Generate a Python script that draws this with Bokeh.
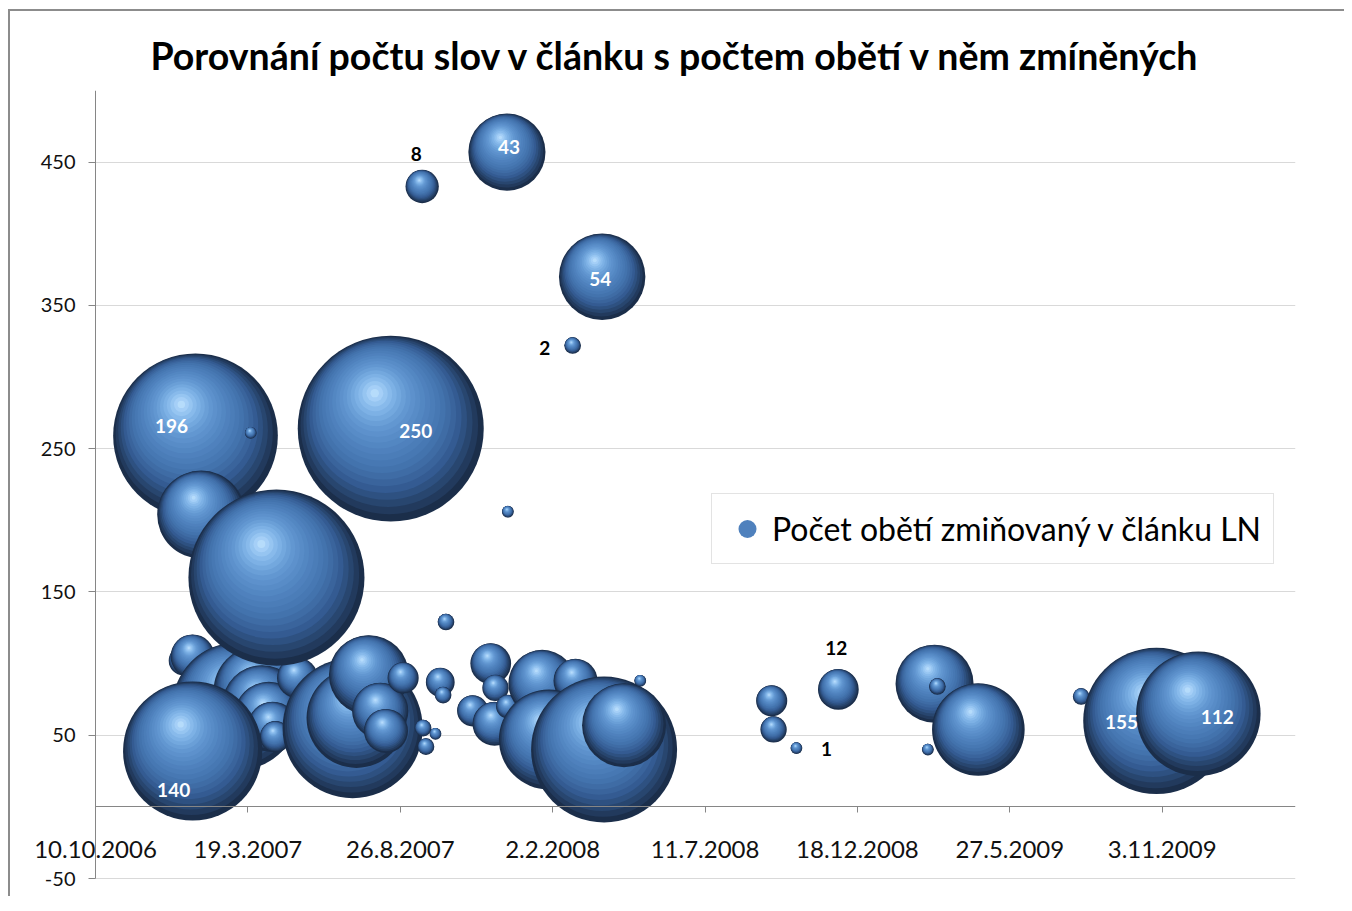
import numpy as np
import pandas as pd
from bokeh.plotting import figure
from bokeh.models import FixedTicker, Range1d, Legend, LegendItem, ColumnDataSource
from bokeh.core.properties import value
from bokeh.embed import file_html
from bokeh.resources import INLINE

TITLE = "Porovnání počtu slov v článku s počtem obětí v něm zmíněných"
SERIES = "Počet obětí zmiňovaný v článku LN"

# bubbles in drawing order: date of article, words (y), victims (bubble size)
DATES = ["2007-01-23", "2007-01-29", "2007-01-10", "2007-01-20", "2007-03-07",
         "2007-03-30", "2007-04-03", "2007-04-10", "2007-04-14", "2007-04-17",
         "2007-05-10", "2007-04-18", "2007-03-22", "2007-01-20", "2007-07-07",
         "2007-07-11", "2007-07-24", "2007-08-05", "2007-08-11", "2007-08-29",
         "2007-09-19", "2007-09-22", "2007-10-02", "2007-08-16", "2007-09-18",
         "2007-10-13", "2007-10-07", "2007-10-10", "2007-11-10", "2007-11-29",
         "2007-12-04", "2007-12-03", "2007-12-17", "2007-12-17", "2007-12-16",
         "2008-01-22", "2008-02-26", "2008-01-29", "2008-03-27", "2008-04-17",
         "2008-05-04", "2008-02-23", "2008-03-25", "2008-09-19", "2008-09-21",
         "2008-10-15", "2008-11-28", "2009-03-09", "2009-03-12", "2009-03-02",
         "2009-04-24", "2009-08-10", "2009-10-28", "2009-12-11"]
WORDS = [259, 204, 102, 105, 70,
         81, 71, 63, 56, 49,
         90, 160, 261, 39, 55,
         62, 92, 67, 53, 90,
         55, 42, 51, 264, 433,
         129, 87, 78, 67, 100,
         83, 58, 70, 206, 457,
         86, 88, 47, 40, 57,
         88, 322, 370, 74, 54,
         41, 82, 86, 84, 40,
         54, 77, 60, 65]
VICTIMS = [196, 56, 6, 14, 118,
           58, 46, 35, 18, 7,
           12, 224, 1, 140, 142,
           72, 46, 23, 14, 7,
           2, 2, 1, 250, 8,
           2, 6, 2, 7, 12,
           5, 14, 4, 1, 43,
           33, 14, 72, 154, 51,
           1, 2, 54, 7, 5,
           1, 12, 44, 2, 1,
           62, 2, 155, 112]

# data labels (index into the bubbles) with screen offsets and colours
LABEL_INDEX = [0, 23, 13, 24, 34, 42, 41, 46, 45, 52, 53]
LABEL_DX = [-24, 25, -19, -6, 2, -2, -28, -2, 30, -35, 19]
LABEL_DY = [-10, 2, 39, -32, -5, 2, 2, -41, 1, 1, 3]
LABEL_COLOR = ["white", "white", "white", "black", "white", "white", "black",
               "black", "black", "white", "white"]

X_TICK_LABELS = ["10.10.2006", "19.3.2007", "26.8.2007", "2.2.2008",
                 "11.7.2008", "18.12.2008", "27.5.2009", "3.11.2009"]
Y_TICKS = [-50, 50, 150, 250, 350, 450]
Y_TICK_LABELS = ["-50", "50", "150", "250", "350", "450"]
X_START, X_END = "2006-10-10", "2010-03-23"
Y_START, Y_END = -50, 500

# layout (pixels)
AXIS_W, AXIS_H = 1200, 788      # extent of the axes
PAD_LEFT, PAD_BOTTOM = 85, 17   # frame room left of / below the axes
R_MAX_PX = 93.0

def ms(d):
    return pd.to_datetime(d).value / 1e6

x0, x1 = ms(X_START), ms(X_END)
ms_per_px = (x1 - x0) / AXIS_W
units_per_px = (Y_END - Y_START) / AXIS_H

# shading ramp for the 3-D bubble look (rim -> highlight)
STOP_T = [0.0, 0.08, 0.18, 0.30, 0.46, 0.64, 0.80, 0.92, 1.0]
STOP_C = ["#1b2e4a", "#27436b", "#345b92", "#4271ab", "#4f82be", "#6297d1",
          "#82b6e9", "#a8d2f8", "#c8e8ff"]
rgb = np.array([[int(c[i:i + 2], 16) for i in (1, 3, 5)] for c in STOP_C], float)

def color_at(t):
    r, g, b = (np.interp(t, STOP_T, rgb[:, j]) for j in range(3))
    return "#%02x%02x%02x" % (int(round(r)), int(round(g)), int(round(b)))

K = 22
HDIR = np.array([-0.41, -0.91])   # direction of the highlight (screen)
HDIST = 0.42                      # highlight distance, fraction of radius
scale = R_MAX_PX / np.sqrt(max(VICTIMS))

lx, ly, ls, lc = [], [], [], []
for d, w, v in zip(DATES, WORDS, VICTIMS):
    r = scale * np.sqrt(v)
    xm = ms(d)
    for k in range(K):
        t = k / K
        g = HDIST * (1 - (1 - t) ** 2) * r
        lx.append(xm + HDIR[0] * g * ms_per_px)
        ly.append(w - HDIR[1] * g * units_per_px)
        ls.append(2 * r * (1 - t))
        lc.append(color_at(t))

p = figure(frame_width=AXIS_W + PAD_LEFT, frame_height=AXIS_H + PAD_BOTTOM,
           x_axis_type="datetime", output_backend="svg", toolbar_location=None,
           x_range=Range1d(x0 - PAD_LEFT * ms_per_px, x1),
           y_range=Range1d(Y_START - PAD_BOTTOM * units_per_px, Y_END),
           min_border_left=0, min_border_right=49, min_border_top=79,
           min_border_bottom=1, background_fill_color="white",
           border_fill_color="white")
p.styles = {"margin-left": "8px", "margin-top": "9px",
            "border-left": "2px solid #8c8c8c", "border-top": "2px solid #8c8c8c"}
p.outline_line_color = None

src = ColumnDataSource(dict(x=lx, y=ly, size=ls, color=lc))
r_main = p.scatter("x", "y", size="size", fill_color="color", line_color=None,
                   source=src)

lab = ColumnDataSource(dict(
    x=[ms(DATES[i]) for i in LABEL_INDEX],
    y=[WORDS[i] for i in LABEL_INDEX],
    text=[str(VICTIMS[i]) for i in LABEL_INDEX],
    dx=LABEL_DX, dy=LABEL_DY, color=LABEL_COLOR))
p.text("x", "y", text="text", x_offset="dx", y_offset="dy", text_color="color",
       text_font=value("Lato"), text_font_style="bold", text_font_size="19px",
       text_align="center", text_baseline="middle", source=lab)

# title
p.title.text = TITLE
p.title.text_font = "Lato"
p.title.text_font_size = "37.5px"
p.title.text_font_style = "bold"
p.title.text_color = "black"
p.title.align = "left"
p.title.offset = 140
p.title.standoff = 25

# axes
xt = [ms(pd.to_datetime(s, format="%d.%m.%Y")) for s in X_TICK_LABELS]
xa = p.xaxis[0]
xa.ticker = FixedTicker(ticks=xt)
xa.major_label_overrides = {t: s for t, s in zip(xt, X_TICK_LABELS)}
xa.fixed_location = 0
xa.bounds = (x0, x1)
xa.axis_line_color = "#868686"
xa.major_tick_line_color = "#868686"
xa.major_tick_out = 6
xa.major_tick_in = 0
xa.minor_tick_line_color = None
xa.major_label_standoff = 28
xa.major_label_text_font = "Lato"
xa.major_label_text_font_size = "24px"
xa.major_label_text_color = "#111111"

ya = p.yaxis[0]
ya.ticker = FixedTicker(ticks=Y_TICKS)
ya.major_label_overrides = {t: s for t, s in zip(Y_TICKS, Y_TICK_LABELS)}
ya.fixed_location = x0
ya.bounds = (Y_START, Y_END)
ya.axis_line_color = "#868686"
ya.major_tick_line_color = "#868686"
ya.major_tick_out = 7
ya.major_tick_in = 0
ya.minor_tick_line_color = None
ya.major_label_standoff = 13
ya.major_label_text_font = "Lato"
ya.major_label_text_font_size = "20px"
ya.major_label_text_color = "#111111"

p.xgrid.visible = False
yg = p.ygrid[0]
yg.grid_line_color = "#d9d9d9"
yg.ticker = FixedTicker(ticks=Y_TICKS)
try:
    yg.cross_bounds = (x0, x1)
except Exception:
    yg.visible = False
    p.segment(x0=[x0] * len(Y_TICKS), x1=[x1] * len(Y_TICKS), y0=Y_TICKS,
              y1=Y_TICKS, line_color="#d9d9d9", line_width=1, level="underlay")

# legend (uses a mid-tone layer of the bubble renderer as its swatch)
legend = Legend(items=[LegendItem(label=SERIES, renderers=[r_main], index=10)],
                location=(701, 331), padding=12, glyph_width=46, glyph_height=45,
                label_standoff=2, label_text_font="Lato",
                label_text_font_size="32px", label_text_color="black",
                border_line_color="#c8c8c8", border_line_width=1,
                background_fill_color="white", background_fill_alpha=1.0,
                margin=0)
p.add_layout(legend)

open("out.html", "w").write(file_html(p, INLINE))
